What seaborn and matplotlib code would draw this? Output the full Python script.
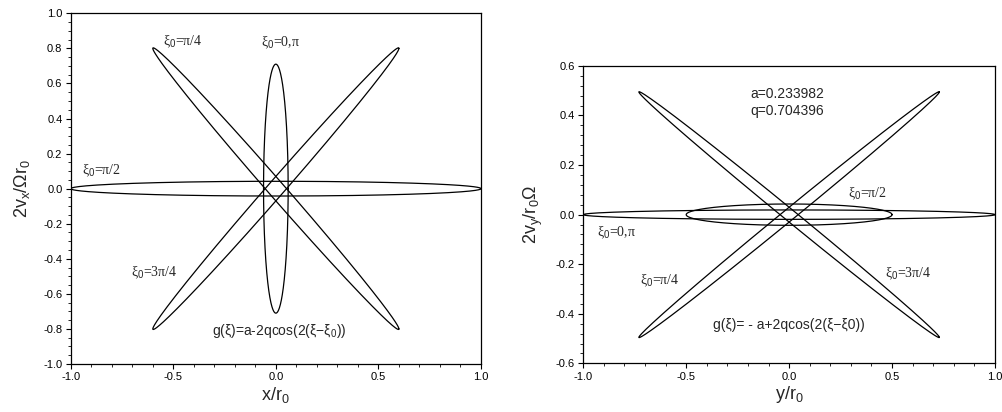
import numpy as np
import pandas as pd
import matplotlib
matplotlib.use("Agg")
import matplotlib.pyplot as plt
from matplotlib.ticker import MultipleLocator, FormatStrFormatter
import seaborn as sns

# ---- data ----
# each orbit: x = x_amp*cos(t), y = y_at_xmax*cos(t) + y_at_x0*sin(t)
left_names = ["xi0=0,pi", "xi0=pi/4", "xi0=pi/2", "xi0=3pi/4"]
left_x_amp = [0.06, 0.60, 1.00, 0.60]
left_y_at_xmax = [0.00, -0.80, 0.00, 0.80]
left_y_at_x0 = [0.71, 0.07, 0.042, 0.07]

right_names = ["xi0=0,pi", "xi0=pi/4", "xi0=pi/2", "xi0=3pi/4"]
right_x_amp = [1.00, 0.73, 0.50, 0.73]
right_y_at_xmax = [0.00, 0.495, 0.00, -0.495]
right_y_at_x0 = [0.019, 0.03, 0.043, 0.03]

left_label_rest = ["=π/4", "=0,π", "=π/2", "=3π/4"]
left_label_x = [-0.548, -0.072, -0.946, -0.708]
left_label_y = [0.84, 0.83, 0.10, -0.48]

right_label_rest = ["=π/2", "=0,π", "=π/4", "=3π/4"]
right_label_x = [0.287, -0.935, -0.725, 0.466]
right_label_y = [0.082, -0.075, -0.266, -0.237]

xlim_vals = [-1.0, 1.0]
left_ylim = [-1.0, 1.0]
right_ylim = [-0.6, 0.6]

sns.set_theme(style="white")
plt.rcParams["font.family"] = ["Liberation Sans", "DejaVu Sans"]
plt.rcParams["mathtext.fontset"] = "custom"
plt.rcParams["mathtext.rm"] = "Liberation Sans"
plt.rcParams["mathtext.it"] = "Liberation Sans"
plt.rcParams["mathtext.bf"] = "Liberation Sans"

t = np.linspace(0, 2 * np.pi, 721)


def orbit_frame(names, xa, yb, yc):
    rows = []
    for n, a, b, c in zip(names, xa, yb, yc):
        rows.append(pd.DataFrame({"x": a * np.cos(t), "y": b * np.cos(t) + c * np.sin(t),
                                  "orbit": n}))
    return pd.concat(rows, ignore_index=True)


df_left = orbit_frame(left_names, left_x_amp, left_y_at_xmax, left_y_at_x0)
df_right = orbit_frame(right_names, right_x_amp, right_y_at_xmax, right_y_at_x0)

fig = plt.figure(figsize=(10.02, 4.12), dpi=100)
axL = fig.add_axes([0.0706, 0.1165, 0.4094, 0.8512])
axR = fig.add_axes([0.5821, 0.1180, 0.4109, 0.7220])

for ax, df in ((axL, df_left), (axR, df_right)):
    for name in df["orbit"].unique():
        sub = df[df["orbit"] == name]
        sns.lineplot(data=sub, x="x", y="y", sort=False, estimator=None,
                     color="black", linewidth=0.9, ax=ax)


def style(ax, ylim, ymaj, ymin):
    ax.set_xlim(*xlim_vals)
    ax.set_ylim(*ylim)
    ax.xaxis.set_major_locator(MultipleLocator(0.5))
    ax.xaxis.set_minor_locator(MultipleLocator(0.1))
    ax.yaxis.set_major_locator(MultipleLocator(ymaj))
    ax.yaxis.set_minor_locator(MultipleLocator(ymin))
    ax.xaxis.set_major_formatter(FormatStrFormatter("%.1f"))
    ax.yaxis.set_major_formatter(FormatStrFormatter("%.1f"))
    ax.tick_params(which="major", direction="out", length=3.5, width=0.8,
                   labelsize=8, colors="black", pad=2.5, bottom=True, left=True,
                   top=False, right=False)
    ax.tick_params(which="minor", direction="out", length=2, width=0.7,
                   bottom=True, left=True, top=False, right=False)
    for s in ax.spines.values():
        s.set_color("black")
        s.set_linewidth(0.9)
    ax.set_facecolor("white")


style(axL, left_ylim, 0.2, 0.05)
style(axR, right_ylim, 0.2, 0.04)

axL.set_xlabel(r"x/r$_0$", fontsize=13, labelpad=2)
axL.set_ylabel(r"2v$_\mathregular{x}$/Ωr$_0$", fontsize=13, labelpad=8)
axR.set_xlabel(r"y/r$_0$", fontsize=13, labelpad=2)
axR.set_ylabel(r"2v$_\mathregular{y}$/r$_0$Ω", fontsize=13, labelpad=8)

serif = ["Liberation Serif", "DejaVu Serif"]


def xi_label(ax, x, y, rest, size=10):
    txt = r"ξ$_0$" + rest
    ax.text(x, y, txt, fontsize=size, family=serif, ha="left", va="center",
            math_fontfamily="custom")


for x, y, r in zip(left_label_x, left_label_y, left_label_rest):
    xi_label(axL, x, y, r)
for x, y, r in zip(right_label_x, right_label_y, right_label_rest):
    xi_label(axR, x, y, r)

axL.text(-0.31, -0.81, r"g(ξ)=a-2qcos(2(ξ$-$ξ$_0$))", fontsize=10, ha="left", va="center")
axR.text(-0.187, 0.486, "a=0.233982", fontsize=10, ha="left", va="center")
axR.text(-0.187, 0.420, "q=0.704396", fontsize=10, ha="left", va="center")
axR.text(-0.368, -0.445, "g(ξ)= - a+2qcos(2(ξ−ξ0))", fontsize=10, ha="left", va="center")

fig.savefig("out.png", dpi=100, facecolor="white")
